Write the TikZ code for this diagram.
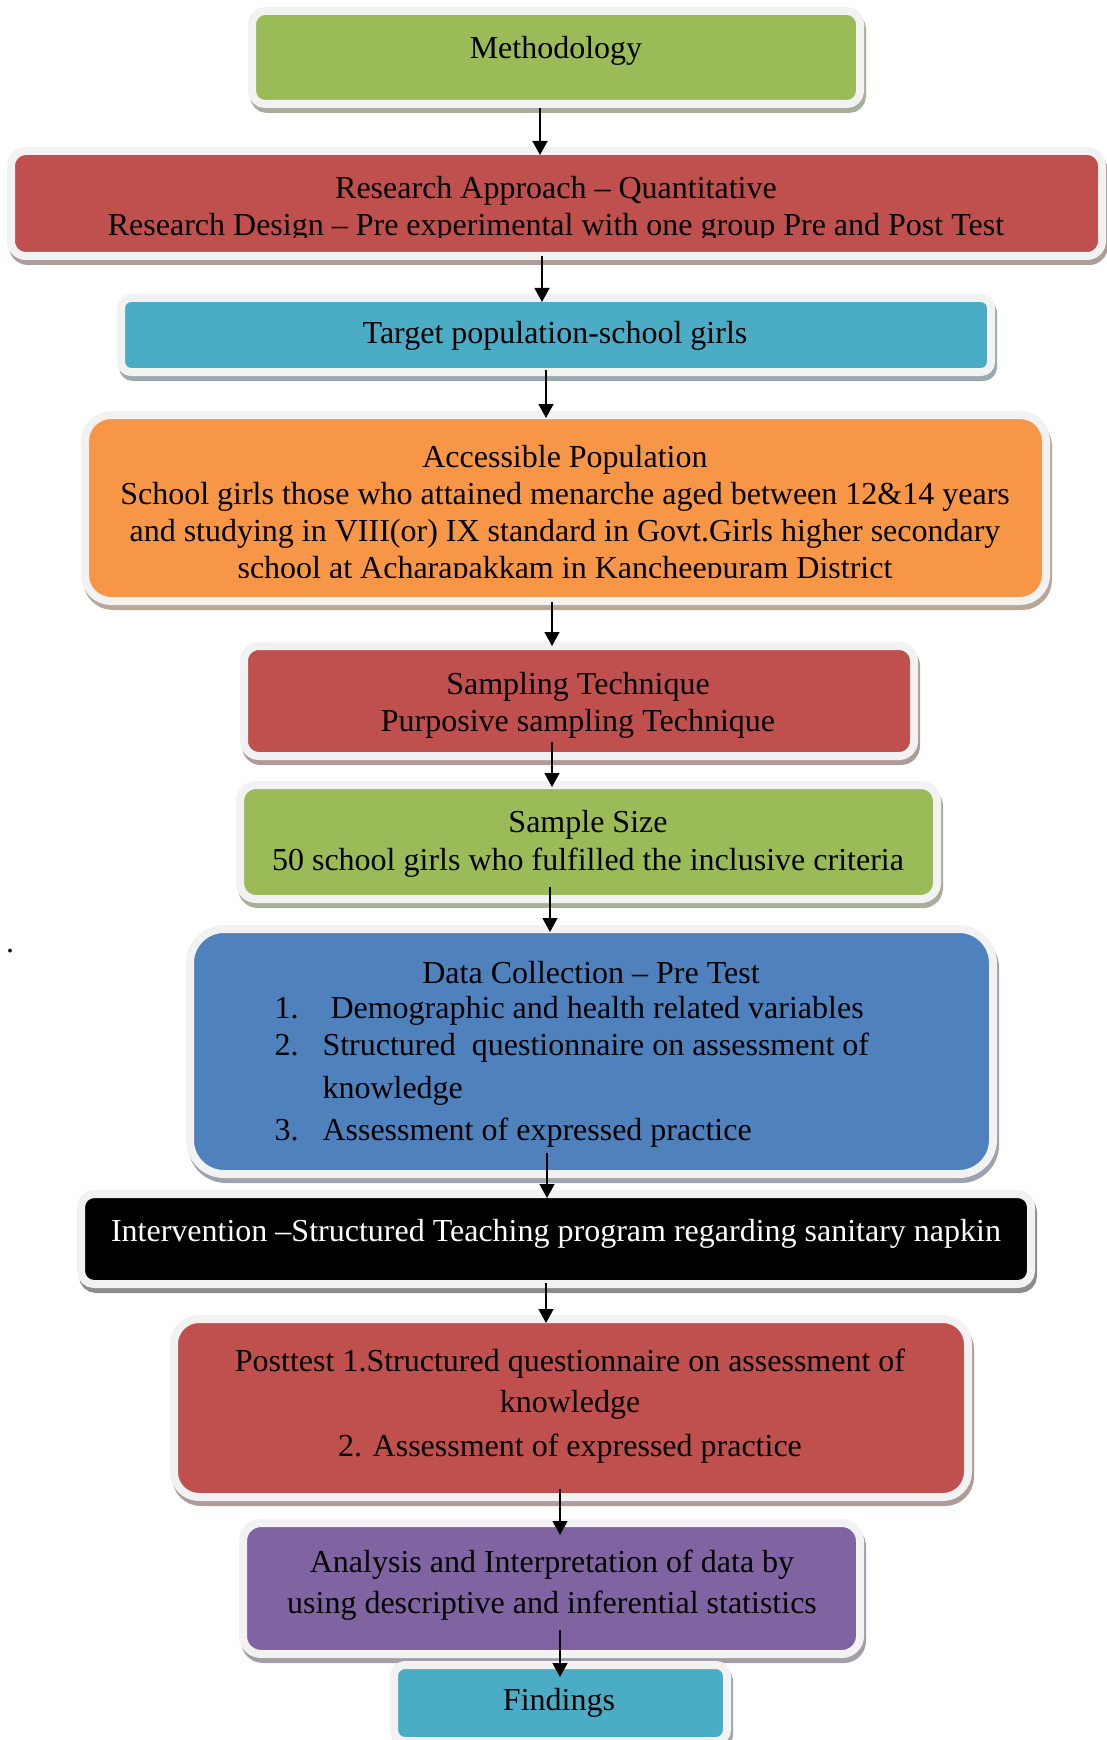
\documentclass[tikz,border=0pt]{standalone}
\usepackage{fontspec}
\setmainfont{Liberation Serif}
\usetikzlibrary{arrows.meta,calc,shadows}
\definecolor{cgreen}{HTML}{9BBB59}
\definecolor{cred}{HTML}{C0504D}
\definecolor{ccyan}{HTML}{4BACC6}
\definecolor{corange}{HTML}{F79646}
\definecolor{cblue}{HTML}{4F81BD}
\definecolor{cpurple}{HTML}{8064A2}
\definecolor{framegray}{HTML}{F2F2F2}
\tikzset{
  flowbox/.style n args={4}{draw=framegray, line width=3pt, fill=#1,
    rounded corners=#2, minimum width=#3, minimum height=#4, inner sep=0pt,
    drop shadow={shadow xshift=0.75pt, shadow yshift=-1.875pt, opacity=1,
      fill=#1!40!black!45!white, draw=#1!40!black!45!white, line width=3pt}},
  txt/.style={inner sep=0pt, align=center, font=\fontsize{12}{13.9}\selectfont},
  arr/.style={-{Triangle[width=5.6pt,length=5.25pt]}, line width=0.6pt, draw=black},
}
\begin{document}
\begin{tikzpicture}[x=0.375pt, y=-0.375pt]
\useasboundingbox (0,0) rectangle (1107,1740);
\clip (0,0) rectangle (1107,1740);

% boxes
\node[flowbox={cgreen}{4.9pt}{228pt}{34.875pt}] (b1) at (556,57.5) {};
\node[txt] (t1) at (556,51) {Methodology};

\node[flowbox={cred}{5.6pt}{409.125pt}{39.375pt}] (b2) at (556.5,203.5) {};
\begin{scope}
\clip (0,0) rectangle (1107,237.5);
\node[txt] (t2) at (556,209.5) {Research Approach – Quantitative\\Research Design – Pre experimental with one group Pre and Post Test};
\end{scope}

\node[flowbox={ccyan}{3.75pt}{326.25pt}{27.75pt}] (b3) at (556,335) {};
\node[txt] (t3) at (555,336) {Target population-school girls};

\node[flowbox={corange}{9.75pt}{360.375pt}{69.75pt}] (b4) at (565.5,508) {};
\begin{scope}
\clip (0,0) rectangle (1107,577);
\node[txt, font=\fontsize{12}{13.85}\selectfont] (t4) at (565,515) {Accessible Population\\School girls those who attained menarche aged between 12\&14 years\\and studying in VIII(or) IX standard in Govt.Girls higher secondary\\school at Acharapakkam in Kancheepuram District};
\end{scope}

\node[flowbox={cred}{5.6pt}{251.25pt}{41.25pt}] (b5) at (579,701) {};
\node[txt] (t5) at (578,705.5) {Sampling Technique\\Purposive sampling Technique};

\node[flowbox={cgreen}{6pt}{261.375pt}{42.75pt}] (b6) at (588.5,842) {};
\node[txt, font=\fontsize{12}{14.4}\selectfont] (t6) at (588,844) {Sample Size\\50 school girls who fulfilled the inclusive criteria};

\node[flowbox={cblue}{12.75pt}{301.125pt}{91.875pt}] (b7) at (591.5,1051.5) {};
\node[txt] (t7) at (591,973) {Data Collection – Pre Test};
\node[txt, align=left, anchor=west, font=\fontsize{12}{13.7}\selectfont] (t7b) at (274,1072) {\makebox[18pt][l]{1.}\ Demographic and health related variables\\
\makebox[18pt][l]{2.}Structured\ \ questionnaire on assessment of\\[2.5pt]
\hspace*{18pt}knowledge\\[2.1pt]
\makebox[18pt][l]{3.}Assessment of expressed practice};

\node[flowbox={black}{4.9pt}{356.25pt}{33.75pt}] (b8) at (556,1239) {};
\node[txt, text=white] (t8) at (556,1234) {Intervention –Structured Teaching program regarding sanitary napkin};

\node[flowbox={cred}{9.4pt}{297.75pt}{66.75pt}] (b9) at (571,1408) {};
\node[txt] (t9) at (570,1406) {Posttest 1.Structured questionnaire on assessment of\\[1.5pt]knowledge\\[2.6pt]2. Assessment of expressed practice};

\node[flowbox={cpurple}{6.75pt}{231.375pt}{49.125pt}] (b10) at (551.5,1588.5) {};
\node[txt] (t10) at (552,1585) {Analysis and Interpretation of data by\\[1.5pt]using descriptive and inferential statistics};

\node[flowbox={ccyan}{4.1pt}{124.875pt}{28.5pt}] (b11) at (560.5,1703) {};
\node[txt] (t11) at (559,1703) {Findings};

\node[inner sep=0pt, anchor=base, font=\fontsize{12}{14}\selectfont] (dot) at (10,952) {.};

% connectors
\draw[arr] ($(b1.south)+(-16,0)$) -- ($(b2.north)+(-16.5,8)$);
\draw[arr] ($(b2.south)+(-14.5,-4)$) -- ($(b3.north)+(-14,8)$);
\draw[arr] ($(b3.south)+(-10,-6)$) -- ($(b4.north)+(-19.5,7)$);
\draw[arr] ($(b4.south)+(-13.5,-3)$) -- ($(b5.north)+(-27,4)$);
\draw[arr] ($(b5.south)+(-27,-18)$) -- ($(b6.north)+(-36.5,6)$);
\draw[arr] ($(b6.south)+(-38.5,-16)$) -- ($(b7.north)+(-41.5,7)$);
\draw[arr] ($(b7.south)+(-44.5,-25)$) -- ($(b8.north)+(-9,8)$);
\draw[arr] ($(b8.south)+(-10,-5)$) -- ($(b9.north)+(-25,8)$);
\draw[arr] ($(b9.south)+(-11,-12)$) -- ($(b10.north)+(8.5,16)$);
\draw[arr] ($(b10.south)+(8.5,-28)$) -- ($(b11.north)+(-0.5,16)$);
\end{tikzpicture}
\end{document}
